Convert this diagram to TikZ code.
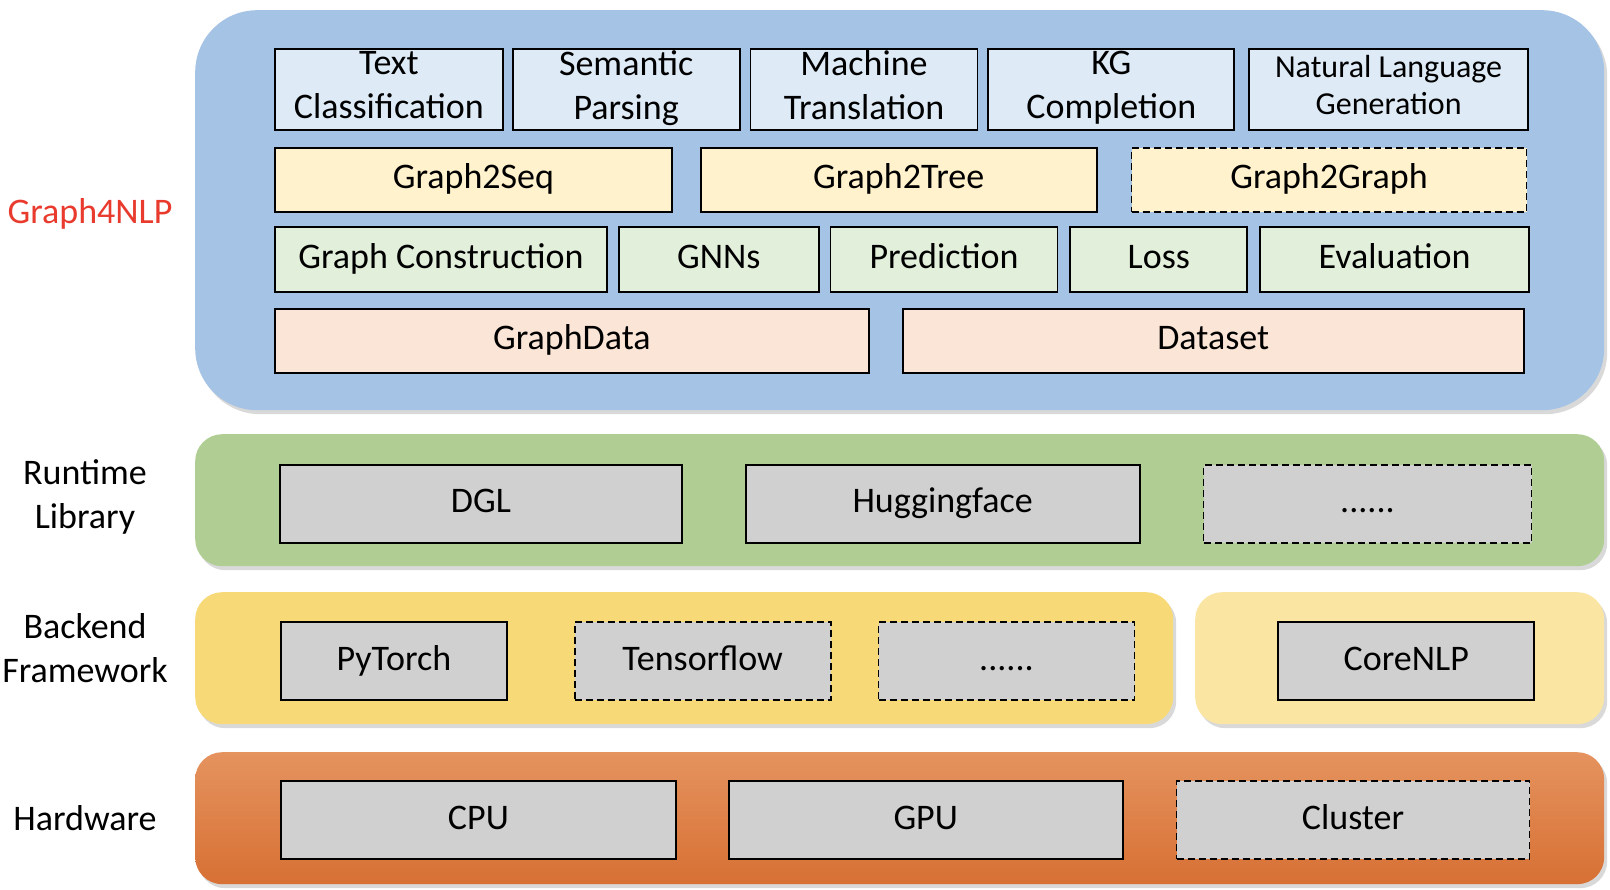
\documentclass[tikz,border=0pt]{standalone}
\usepackage{fontspec}
\setmainfont{Carlito}
\usetikzlibrary{positioning, shadows}

\definecolor{layerblue}{HTML}{A5C3E5}
\definecolor{layergreen}{HTML}{B0CE94}
\definecolor{layeryellow}{HTML}{F8D977}
\definecolor{layerlight}{HTML}{FAE5A2}
\definecolor{hwtop}{HTML}{E5935F}
\definecolor{hwmid}{HTML}{E5833F}
\definecolor{hwbottom}{HTML}{D77034}
\definecolor{taskfill}{HTML}{DEEBF7}
\definecolor{modelfill}{HTML}{FFF2CC}
\definecolor{compfill}{HTML}{E2EFDA}
\definecolor{datafill}{HTML}{FBE5D6}
\definecolor{libfill}{HTML}{D0D0D0}
\definecolor{g4red}{HTML}{E83A2D}
\newcommand\lnstrut{\rule[-9pt]{0pt}{36pt}}
\newcommand\tasktop{\rule[-9pt]{0pt}{39.5pt}}
\newcommand\taskbot{\rule[-6.5pt]{0pt}{20pt}}

\begin{document}
\begin{tikzpicture}[x=1pt,y=-1pt]
\tikzstyle{every node}=[font=\fontsize{36}{44}\selectfont, inner sep=0pt, align=center]
\tikzstyle{struts}=[execute at begin node=\lnstrut, execute at end node=\lnstrut]
\tikzstyle{layer}=[rectangle, rounded corners=27pt, anchor=north west,
  drop shadow={shadow xshift=3pt, shadow yshift=-4pt, opacity=0.3}]
\tikzstyle{box}=[rectangle, draw, line width=1.8pt]
\tikzstyle{task}=[box, fill=taskfill, minimum height=81pt,
  execute at begin node=\tasktop, execute at end node=\taskbot]
\tikzstyle{smalltask}=[box, struts, fill=taskfill, minimum height=81pt, font=\fontsize{32}{37}\selectfont]
\tikzstyle{model}=[box, struts, fill=modelfill, minimum height=64pt]
\tikzstyle{comp}=[box, struts, fill=compfill, minimum height=65pt]
\tikzstyle{data}=[box, struts, fill=datafill, minimum height=64pt]
\tikzstyle{lib}=[box, struts, fill=libfill, minimum height=78pt]
\tikzstyle{todo}=[dashed, dash pattern=on 7pt off 4pt]
\tikzstyle{lbl}=[struts, text=black]

\useasboundingbox (0,0) rectangle (1610,890);

% layers
\node[layer, fill=layerblue, rounded corners=62pt, minimum width=1409pt, minimum height=400pt] (g4nlp) at (195,10) {};
\node[layer, fill=layergreen, minimum width=1409pt, minimum height=132pt] (runtime) at (195,434) {};
\node[layer, fill=layeryellow, minimum width=978pt, minimum height=132pt] (backend) at (195,592) {};
\node[layer, fill=layerlight, minimum width=409pt, minimum height=132pt] (tools) at (1195,592) {};
\node[layer, top color=hwtop, middle color=hwmid, bottom color=hwbottom, minimum width=1409pt, minimum height=132pt] (hardware) at (195,752) {};

% left labels
\node[lbl, text=g4red] (lg4nlp) at (90,215) {Graph4NLP};
\node[lbl] (lruntime) at (85,499) {Runtime\\Library};
\node[lbl] (lbackend) at (85,653) {Backend\\Framework};
\node[lbl] (lhardware) at (85,821) {Hardware};

% applications
\node[task, minimum width=228pt, anchor=north west] (tc) at (274,48) {Text\\Classification};
\node[task, minimum width=227pt, right=8pt of tc] (sp) {Semantic\\Parsing};
\node[task, minimum width=227pt, right=9pt of sp] (mt) {Machine\\Translation};
\node[task, minimum width=246pt, right=9pt of mt] (kg) {KG\\Completion};
\node[smalltask, minimum width=279pt, right=13pt of kg] (nlg) {Natural Language\\Generation};

% models
\node[model, minimum width=397pt, anchor=north west] (g2s) at (274,147) {Graph2Seq};
\node[model, minimum width=396pt, right=27pt of g2s] (g2t) {Graph2Tree};
\node[model, todo, minimum width=395pt, right=33pt of g2t] (g2g) {Graph2Graph};

% components
\node[comp, minimum width=332pt, anchor=north west] (gc) at (274,226) {Graph Construction};
\node[comp, minimum width=200pt, right=10pt of gc] (gnn) {GNNs};
\node[comp, minimum width=227pt, right=10pt of gnn] (pred) {Prediction};
\node[comp, minimum width=177pt, right=11pt of pred] (loss) {Loss};
\node[comp, minimum width=269pt, right=11pt of loss] (eval) {Evaluation};

% data
\node[data, minimum width=594pt, anchor=north west] (gdata) at (274,308) {GraphData};
\node[data, minimum width=621pt, right=32pt of gdata] (dset) {Dataset};

% runtime library
\node[lib, minimum width=402pt, anchor=west] (dgl) at (279,504) {DGL};
\node[lib, minimum width=394pt, right=62pt of dgl] (hf) {Huggingface};
\node[lib, todo, minimum width=328pt, right=62pt of hf] (rtmore) {......};

% backend framework
\node[lib, minimum width=226pt, anchor=west] (torch) at (280,661) {PyTorch};
\node[lib, todo, minimum width=256pt, right=66pt of torch] (tf) {Tensorflow};
\node[lib, todo, minimum width=256pt, right=46pt of tf] (bemore) {......};
\node[lib, minimum width=256pt, right=142pt of bemore] (cnlp) {CoreNLP};

% hardware
\node[lib, minimum width=395pt, anchor=west] (cpu) at (280,820) {CPU};
\node[lib, minimum width=394pt, right=51pt of cpu] (gpu) {GPU};
\node[lib, todo, minimum width=353pt, right=52pt of gpu] (cluster) {Cluster};
\end{tikzpicture}
\end{document}
